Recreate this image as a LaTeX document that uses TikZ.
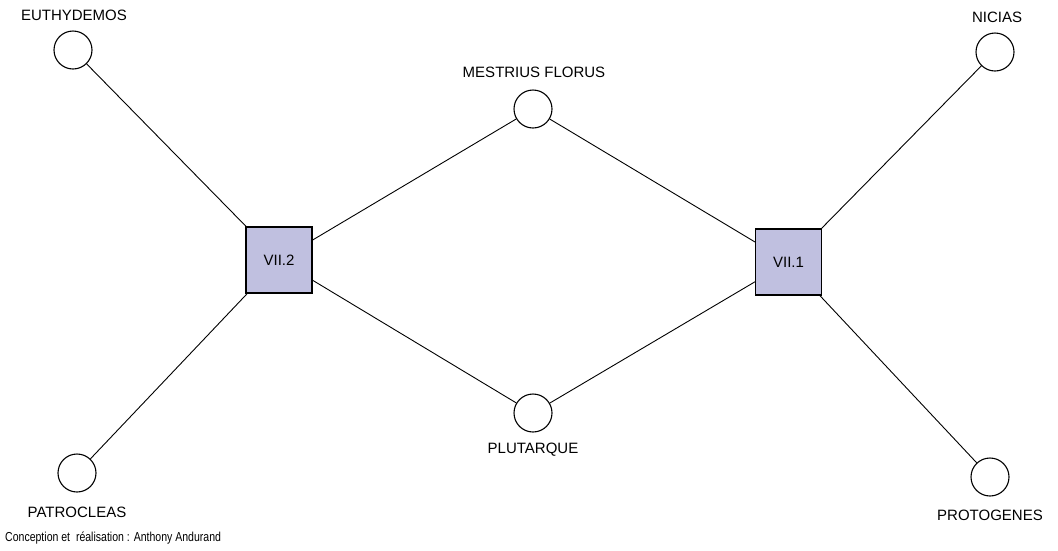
\documentclass[tikz,border=0pt]{standalone}
\usepackage{fontspec}
\setmainfont{Liberation Sans}
\newfontfamily\credfont[FakeStretch=0.81]{Liberation Sans}
\definecolor{boxfill}{RGB}{192,192,224}
\begin{document}
\begin{tikzpicture}[x=1pt,y=-1pt,
  person/.style={circle,draw,line width=1.1pt,minimum size=38pt,inner sep=0pt,fill=white},
  letterbox/.style={rectangle,draw,line width=1.1pt,minimum size=66pt,inner sep=0pt,fill=boxfill,font=\fontsize{15}{17}\selectfont},
  lbl/.style={font=\fontsize{15}{17}\selectfont,inner sep=0pt},
  link/.style={line width=0.9pt}]
\useasboundingbox (0,0) rectangle (1058,550);
\node[letterbox] (v2) at (279,260) {VII.2};
\node[letterbox] (v1) at (788.5,262) {VII.1};
\node[person] (eu) at (73,50) {};
\node[person] (me) at (533,109) {};
\node[person] (ni) at (995,52) {};
\node[person] (pl) at (533,413) {};
\node[person] (pa) at (77,473) {};
\node[person] (pr) at (990,477) {};
\node[lbl] (eul) at (74,15) {EUTHYDEMOS};
\node[lbl] (mel) at (534,72) {MESTRIUS FLORUS};
\node[lbl] (nil) at (997,17) {NICIAS};
\node[lbl] (pll) at (533,450) {PLUTARQUE};
\node[lbl] (pal) at (77,512) {PATROCLEAS};
\node[lbl] (prl) at (990,515) {PROTOGENES};
\node[anchor=west,inner sep=0pt,font=\credfont\fontsize{13}{15}\selectfont] (cred) at (5,538) {Conception et\ \ réalisation : Anthony Andurand};
\draw[link] (eu) -- (v2);
\draw[link] (pa) -- (v2);
\draw[link] (me) -- (v2);
\draw[link] (pl) -- (v2);
\draw[link] (me) -- (v1);
\draw[link] (pl) -- (v1);
\draw[link] (ni) -- (v1);
\draw[link] (pr) -- (v1);
\end{tikzpicture}
\end{document}
